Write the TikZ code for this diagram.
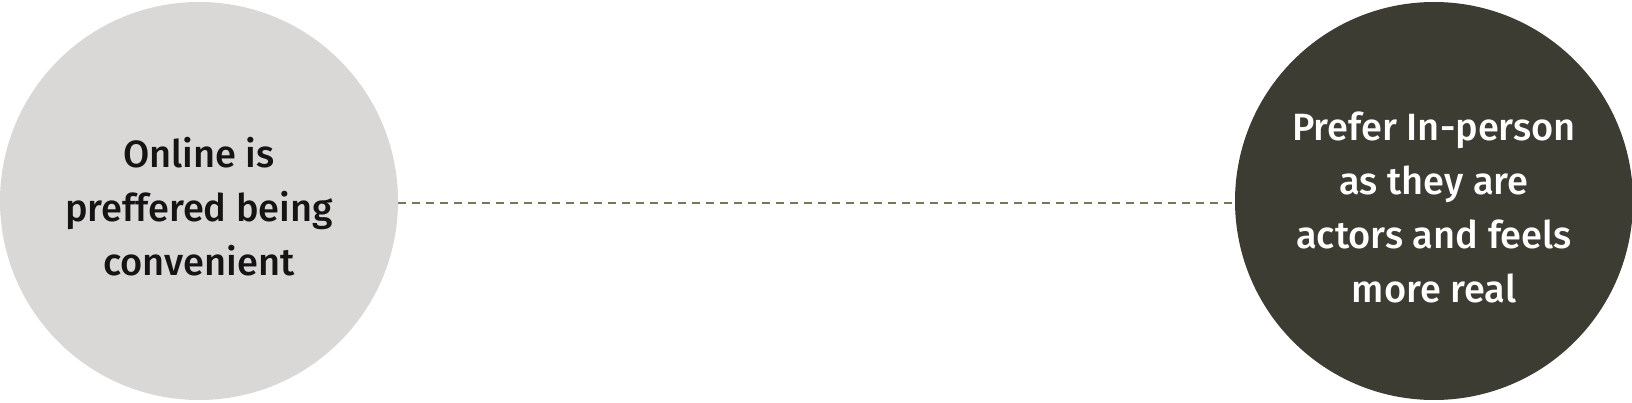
\documentclass[tikz,border=0pt]{standalone}
\usepackage{fontspec}
\setmainfont{Fira Sans}[UprightFont={* Medium}]
\definecolor{lightc}{HTML}{D9D8D6}
\definecolor{darkc}{HTML}{3C3C33}
\definecolor{dashc}{HTML}{77755A}
\begin{document}
\begin{tikzpicture}[x=1pt,y=1pt,
  bubble/.style={circle,inner sep=0pt,minimum size=398pt},
  btext/.style={align=center,font=\fontsize{38}{54}\selectfont},
  link/.style={dashc,line width=2.2pt,dash pattern=on 8pt off 6pt}]
\useasboundingbox (0,0) rectangle (1632,402);
\node[bubble,fill=lightc] (lc) at (199,201) {};
\node[bubble,fill=darkc] (rc) at (1434,201) {};
\node[btext,text=black!92] (lt) at (199,195) {Online is\\preffered being\\convenient};
\node[btext,text=white] (rt) at (1434,195) {Prefer In-person\\as they are\\actors and feels\\more real};
\draw[link] ([yshift=-2pt]lc.east) -- ([yshift=-2pt]rc.west);
\end{tikzpicture}
\end{document}
